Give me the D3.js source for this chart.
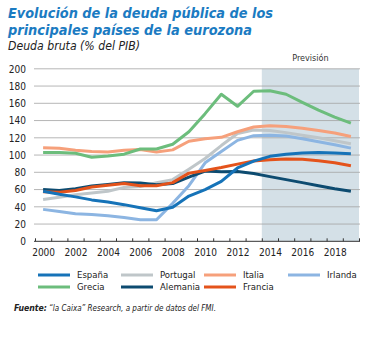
<!DOCTYPE html>
<html>
<head>
<meta charset="utf-8">
<script src="https://cdn.jsdelivr.net/npm/d3@7"></script>
<style>
  body { margin: 0; background: #fff; }
  svg { display: block; }
  text { font-family: "Liberation Sans Narrow", "DejaVu Sans Condensed", Roboto, sans-serif; }
</style>
</head>
<body>
<svg id="chart" width="387" height="338"></svg>
<script>
const years = d3.range(2000, 2020)
const forecastStart = 2014

const espana   = [58, 54.5, 51.5, 48, 45.5, 42.5, 39, 35.5, 39.5, 52.5, 60, 69.5, 85, 93, 98.5, 101, 102.5, 103, 102.5, 101.5]
const portugal = [48.5, 51, 54, 56, 58, 62.5, 63.5, 68, 71.5, 83.5, 96, 111, 125, 129, 128.5, 126, 123, 120, 116.5, 113]
const italia   = [108.5, 108, 105.5, 104, 103.5, 105.5, 106.5, 103.5, 106, 116, 119, 120.5, 127, 132.5, 134, 133, 131, 128.5, 125.5, 121.5]
const irlanda  = [37, 34.5, 32, 31, 29.5, 27.5, 25, 25, 44, 64.5, 91, 104, 117, 122.5, 123, 122, 119, 115.5, 112, 108]
const grecia   = [103, 103, 102, 97.5, 99, 101, 107, 107, 112.5, 127, 148, 170.5, 156.5, 174, 174.5, 170.5, 161, 152, 144, 137]
const alemania = [60, 59, 61, 64, 66, 68, 67.5, 65.5, 67, 74.5, 81.5, 80.5, 81, 78.5, 75, 71.5, 68, 64.5, 61, 58]
const francia  = [57.5, 57, 59, 63, 65, 67, 64.5, 64.5, 68, 79, 82, 85.5, 89.5, 93, 94.5, 95.5, 95, 93.5, 91, 87.5]

const yTicks = d3.range(0, 201, 20)
const xLabels = d3.range(2000, 2020, 2)

const series = [
  { name: 'Portugal', values: portugal, color: '#bfc6c9' },
  { name: 'Irlanda', values: irlanda, color: '#8cb5e2' },
  { name: 'Italia', values: italia, color: '#f6a07b' },
  { name: 'Grecia', values: grecia, color: '#6cbd7c' },
  { name: 'Alemania', values: alemania, color: '#0d4b70' },
  { name: 'Francia', values: francia, color: '#e4531b' },
  { name: 'España', values: espana, color: '#1673b8' }
]

const legendRows = [
  ['España', 'Portugal', 'Italia', 'Irlanda'],
  ['Grecia', 'Alemania', 'Francia']
]

const svg = d3.select('#chart')

const x = d3.scaleLinear().domain([2000, 2020]).range([35, 359])
const y = d3.scaleLinear().domain([0, 200]).range([241.3, 68.8])

// title (squeezed to the width of the original condensed face)
const titleLines = [
  { text: 'Evolución de la deuda pública de los', y: 18, len: 265 },
  { text: 'principales países de la eurozona', y: 35, len: 244 }
]
svg.append('g')
  .selectAll('text')
  .data(titleLines)
  .join('text')
  .attr('x', 8).attr('y', d => d.y)
  .attr('textLength', d => d.len)
  .attr('lengthAdjust', 'spacingAndGlyphs')
  .attr('fill', '#1b7bc2')
  .style('font-size', '14.5px').style('font-weight', 'bold').style('font-style', 'italic')
  .text(d => d.text)

svg.append('text')
  .attr('x', 8).attr('y', 50)
  .attr('textLength', 132)
  .attr('lengthAdjust', 'spacingAndGlyphs')
  .attr('fill', '#222')
  .style('font-size', '12px').style('font-style', 'italic')
  .text('Deuda bruta (% del PIB)')

// forecast area
svg.append('rect')
  .attr('x', x(forecastStart))
  .attr('y', y(200))
  .attr('width', x(2020) - x(forecastStart))
  .attr('height', y(0) - y(200))
  .attr('fill', '#d4e0e7')

svg.append('text')
  .attr('x', (x(forecastStart) + x(2020)) / 2).attr('y', 61)
  .attr('text-anchor', 'middle')
  .attr('fill', '#333')
  .style('font-size', '9px')
  .text('Previsión')

// grid
svg.append('g')
  .selectAll('line')
  .data(yTicks.filter(d => d > 0))
  .join('line')
  .attr('x1', x(2000) - 1).attr('x2', x(2020) + 1)
  .attr('y1', d => y(d)).attr('y2', d => y(d))
  .attr('stroke', '#a3a3a3')
  .attr('stroke-width', 0.8)

// y axis labels
const yAxis = svg.append('g')
  .attr('transform', `translate(${x(2000) - 1},0)`)
  .call(d3.axisLeft(y).tickValues(yTicks).tickSize(0).tickPadding(8))
yAxis.select('.domain').remove()
yAxis.selectAll('text').style('font-size', '10px').attr('fill', '#222')

// x axis: ticks at year boundaries, labels centred on years
const xTickAxis = svg.append('g')
  .attr('transform', `translate(0,${y(0)})`)
  .call(d3.axisBottom(x).tickValues(d3.range(2000, 2021)).tickSize(-3).tickFormat(''))
xTickAxis.select('.domain').attr('stroke', '#333').attr('d', `M${x(2000) - 1},0H${x(2020) + 1}`)
xTickAxis.selectAll('.tick line').attr('stroke', '#333')

const xLabelAxis = svg.append('g')
  .attr('transform', `translate(0,${y(0)})`)
  .call(d3.axisBottom(x).tickValues(xLabels.map(d => d + 0.5)).tickSize(0).tickPadding(8).tickFormat(d => Math.floor(d)))
xLabelAxis.select('.domain').remove()
xLabelAxis.selectAll('text').style('font-size', '10px').attr('fill', '#222')

// lines
const line = d3.line()
  .x((d, i) => x(years[i] + 0.5))
  .y(d => y(d))

svg.append('g')
  .selectAll('path')
  .data(series)
  .join('path')
  .attr('d', d => line(d.values))
  .attr('fill', 'none')
  .attr('stroke', d => d.color)
  .attr('stroke-width', 3)
  .attr('stroke-linejoin', 'round')

// legend
const colorOf = name => series.find(s => s.name === name).color
const legendX = [38, 121, 204, 288]
const legendY = [275, 287]

legendRows.forEach((row, r) => {
  const g = svg.append('g')
  g.selectAll('line')
    .data(row)
    .join('line')
    .attr('x1', (d, i) => legendX[i]).attr('x2', (d, i) => legendX[i] + 32)
    .attr('y1', legendY[r]).attr('y2', legendY[r])
    .attr('stroke', d => colorOf(d))
    .attr('stroke-width', 3)
  g.selectAll('text')
    .data(row)
    .join('text')
    .attr('x', (d, i) => legendX[i] + 39)
    .attr('y', legendY[r] + 3.3)
    .attr('fill', '#222')
    .style('font-size', '9.5px')
    .text(d => d)
})

// source
svg.append('text')
  .attr('x', 14).attr('y', 311)
  .attr('textLength', 33)
  .attr('lengthAdjust', 'spacingAndGlyphs')
  .attr('fill', '#222')
  .style('font-size', '9.5px').style('font-style', 'italic').style('font-weight', 'bold')
  .text('Fuente:')
svg.append('text')
  .attr('x', 49).attr('y', 311)
  .attr('textLength', 167)
  .attr('lengthAdjust', 'spacingAndGlyphs')
  .attr('fill', '#222')
  .style('font-size', '9.5px').style('font-style', 'italic')
  .text('“la Caixa” Research, a partir de datos del FMI.')
</script>
</body>
</html>
